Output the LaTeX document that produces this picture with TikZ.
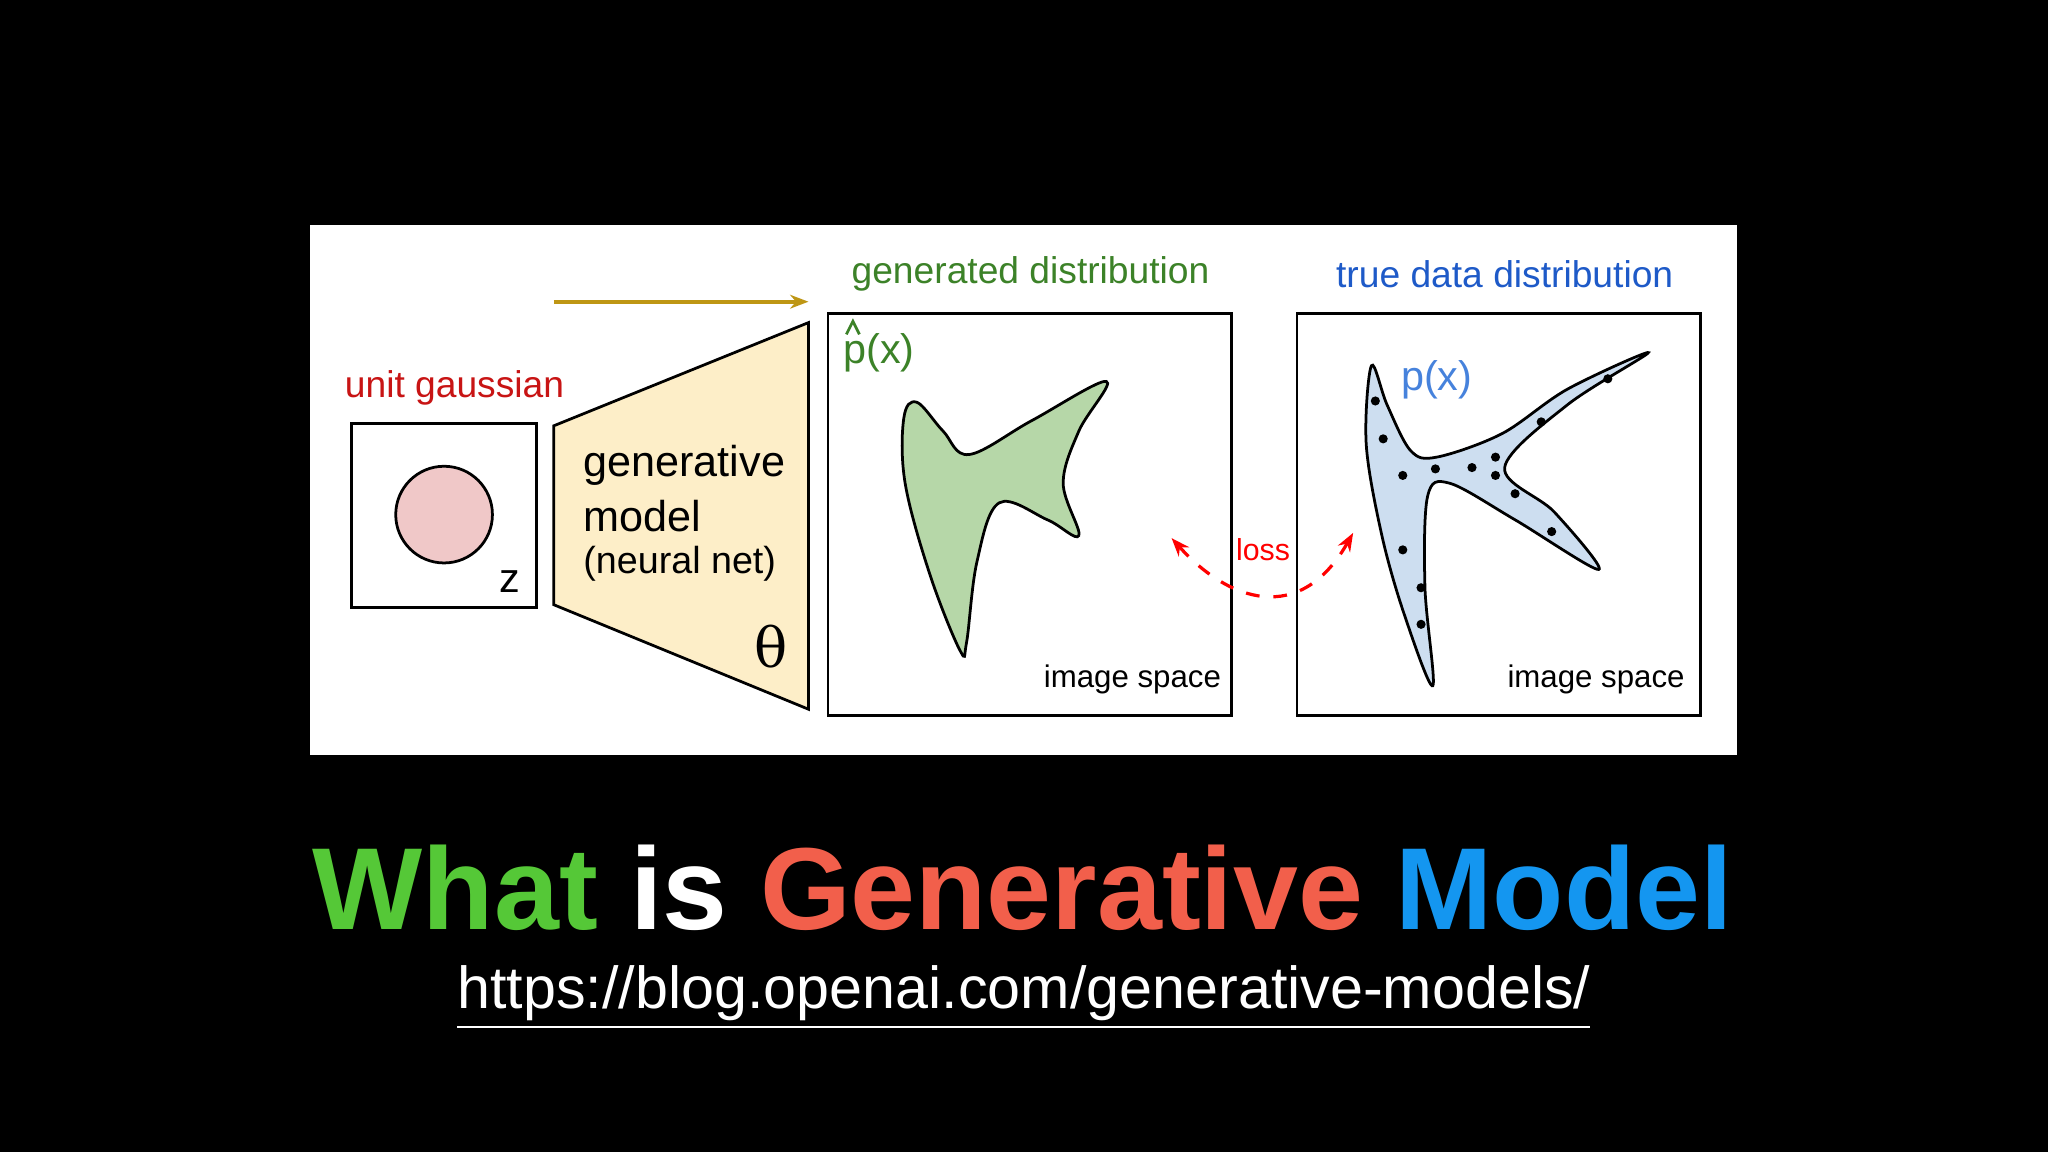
\documentclass[tikz,border=0pt]{standalone}
\usepackage{fontspec}
\setmainfont{Liberation Sans}
\newfontfamily\dejavu{DejaVu Serif}
\usetikzlibrary{arrows.meta}
\definecolor{gred}{RGB}{200,20,20}
\definecolor{ggreen}{RGB}{60,130,40}
\definecolor{gblue}{RGB}{30,90,200}
\definecolor{pinkf}{RGB}{240,200,200}
\definecolor{yelf}{RGB}{253,238,200}
\definecolor{greenf}{RGB}{182,215,168}
\definecolor{bluef}{RGB}{205,222,240}
\definecolor{tgreen}{RGB}{85,200,55}
\definecolor{tred}{RGB}{242,95,75}
\definecolor{tblue}{RGB}{20,150,240}
\tikzset{lbl/.style={font=\fontsize{8.1}{9}\selectfont},
 frame/.style={draw=black,line width=0.6pt,fill=white}}
\begin{document}
\begin{tikzpicture}[x=0.01cm,y=-0.01cm]
\fill[black] (0,0) rectangle (1568,882);
\useasboundingbox (0,0) rectangle (1568,882);
\fill[white] (237,172) rectangle (1330,578);
% arrow
\coordinate (a1) at (424,231); \coordinate (a2) at (619,231);
\draw[draw={rgb,255:red,190;green,150;blue,20},line width=0.8pt,-{Stealth[length=4pt]}] (a1)--(a2);
% gaussian
\node[lbl,text=gred] (ug) at (348,297) {unit gaussian};
\draw[frame] (269,324) rectangle (411,465);
\node[draw,fill=pinkf,circle,minimum size=0.74cm,inner sep=0,line width=0.6pt] (c) at (340,394) {};
\node[font=\fontsize{9}{9}\selectfont] (z) at (390,445) {z};
% trapezoid
\draw[fill=yelf,line width=0.6pt] (424,326)--(619,247)--(619,543)--(424,463)--cycle;
\node[font=\fontsize{9.4}{10}\selectfont,anchor=west,inner sep=0] (g1) at (446,356) {generative};
\node[font=\fontsize{9.4}{10}\selectfont,anchor=west,inner sep=0] (g2) at (446,395) {model};
\node[font=\fontsize{8.2}{9}\selectfont,anchor=west,inner sep=0] (g3) at (446,432) {(neural net)};
\node[font=\dejavu\fontsize{12}{12}\selectfont] (th) at (590,495) {θ};
% generated
\node[lbl,text=ggreen] (gd) at (789,210) {generated distribution};
\draw[frame] (634,240) rectangle (943,548);
\node[text=ggreen,font=\fontsize{9}{9}\selectfont,inner sep=0] (px1) at (673,270) {p(x)};
\draw[ggreen,line width=0.6pt] (648,256)--(653,246)--(658,256);
\draw[fill=greenf,line width=0.6pt] plot[smooth cycle,tension=0.6] coordinates {(735,498)(712,440)(693,370)(692,320)(702,308)(722,330)(742,348)(790,322)(847,292)(826,330)(814,370)(826,410)(802,398)(765,385)(748,430)(740,492)};
\node[font=\fontsize{6.8}{8}\selectfont] (is1) at (867,520) {image space};
% true
\node[lbl,text=gblue] (td) at (1152,210) {true data distribution};
\draw[frame] (993,240) rectangle (1302,548);
\node[text={rgb,255:red,70;green,130;blue,220},font=\fontsize{9}{9}\selectfont] (px2) at (1100,291) {p(x)};
\draw[fill=bluef,line width=0.6pt] plot[smooth cycle,tension=0.55] coordinates {(1050,280)(1046,340)(1058,410)(1075,470)(1097,525)(1091,450)(1093,380)(1110,370)(1160,398)(1224,436)(1190,392)(1152,358)(1200,310)(1262,270)(1200,298)(1150,332)(1100,350)(1080,345)(1062,310)};
\foreach \p in {(1053,307),(1059,336),(1074,364),(1099,359),(1127,358),(1145,350),(1145,364),(1160,378),(1180,323),(1231,290),(1188,407),(1074,421),(1088,450),(1088,478)}
 \fill \p circle[radius=0.035cm];
\node[font=\fontsize{6.8}{8}\selectfont] (is2) at (1222,520) {image space};
% loss
\coordinate (l1) at (1036,408); \coordinate (l2) at (897,412);
\draw[red,dashed,line width=0.7pt,{Stealth[length=4pt]}-{Stealth[length=4pt]}] (l2) .. controls (940,460) and (995,480) .. (l1);
\node[text=red,font=\fontsize{6.6}{8}\selectfont] (loss) at (967,421) {loss};
% title
\node[font=\bfseries\fontsize{25.4}{30}\selectfont] (title) at (783,680) {\textcolor{tgreen}{What} \textcolor{white}{is} \textcolor{tred}{Generative} \textcolor{tblue}{Model}};
\node[text=white,font=\fontsize{12.9}{14}\selectfont] (url) at (784,764) {\underline{https://blog.openai.com/generative-models/}};
\end{tikzpicture}
\end{document}
